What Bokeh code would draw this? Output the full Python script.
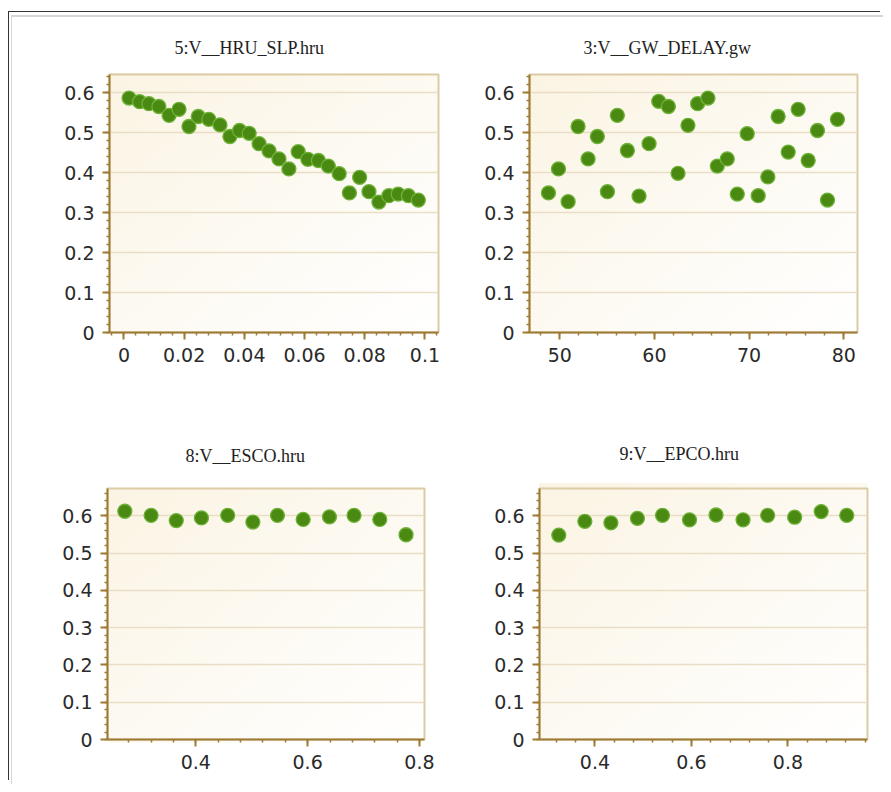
from bokeh.plotting import figure
from bokeh.layouts import row, column
from bokeh.models import SingleIntervalTicker, CustomJSTickFormatter, Range1d
from bokeh.embed import file_html
from bokeh.resources import INLINE

# ---- data ----
hru_slp_x = [0.0017, 0.0052, 0.0083, 0.0116, 0.0150, 0.0183, 0.0216, 0.0247, 0.0282, 0.0319,
             0.0352, 0.0384, 0.0416, 0.0449, 0.0482, 0.0515, 0.0548, 0.0579, 0.0611, 0.0646,
             0.0679, 0.0715, 0.0749, 0.0783, 0.0814, 0.0847, 0.0880, 0.0911, 0.0945, 0.0978]
hru_slp_y = [0.586, 0.577, 0.572, 0.565, 0.543, 0.558, 0.515, 0.540, 0.533, 0.519,
             0.490, 0.505, 0.498, 0.472, 0.454, 0.434, 0.409, 0.452, 0.433, 0.430,
             0.416, 0.397, 0.349, 0.388, 0.352, 0.326, 0.342, 0.346, 0.342, 0.331]

gw_delay_x = [48.8, 49.86, 50.88, 51.93, 52.99, 53.97, 55.03, 56.08, 57.14, 58.37,
              59.43, 60.45, 61.47, 62.49, 63.54, 64.56, 65.65, 66.64, 67.69, 68.75,
              69.80, 70.96, 71.98, 73.07, 74.13, 75.18, 76.24, 77.22, 78.28, 79.33]
gw_delay_y = [0.349, 0.409, 0.327, 0.515, 0.434, 0.490, 0.352, 0.543, 0.455, 0.341,
              0.472, 0.578, 0.565, 0.398, 0.518, 0.572, 0.586, 0.416, 0.434, 0.346,
              0.497, 0.342, 0.389, 0.540, 0.451, 0.558, 0.430, 0.505, 0.331, 0.533]

esco_x = [0.273, 0.320, 0.365, 0.410, 0.457, 0.502, 0.546, 0.592, 0.639, 0.683, 0.729, 0.776]
esco_y = [0.612, 0.601, 0.587, 0.594, 0.601, 0.583, 0.601, 0.590, 0.597, 0.601, 0.590, 0.549]

epco_x = [0.325, 0.379, 0.433, 0.488, 0.540, 0.596, 0.651, 0.707, 0.758, 0.814, 0.869, 0.922]
epco_y = [0.548, 0.585, 0.581, 0.593, 0.601, 0.589, 0.602, 0.589, 0.601, 0.596, 0.611, 0.601]

titles = ["5:V__HRU_SLP.hru", "3:V__GW_DELAY.gw", "8:V__ESCO.hru", "9:V__EPCO.hru"]

AXIS = "#9E7B35"
LABEL = "#2a2a2a"
GRID = "#E9DEC5"
FRAME = "#DCCCA6"

fmt = CustomJSTickFormatter(code="return String(parseFloat(tick.toFixed(6)));")


def panel(title, xs, ys, xr, yr, xint, w, h, bl, br, bt, bb, toff, tstand):
    fw, fh = w - bl - br, h - bt - bb
    p = figure(width=w, height=h, x_range=Range1d(*xr), y_range=Range1d(*yr),
               output_backend="svg", toolbar_location=None,
               min_border_left=bl, min_border_right=br, min_border_top=bt, min_border_bottom=bb,
               border_fill_color=None, background_fill_color=None,
               outline_line_color=FRAME, outline_line_width=2)
    p.styles = {
        "background-image": "linear-gradient(to bottom right, #FBF4E3 0%, #FDFAF3 55%, #FFFFFF 100%)",
        "background-size": f"{fw}px {fh}px",
        "background-position": f"{bl}px {bt}px",
        "background-repeat": "no-repeat",
    }
    p.title.text = title
    p.title.align = "left"
    p.title.offset = toff
    p.title.standoff = tstand
    p.title.text_font = "Liberation Serif"
    p.title.text_font_size = "18px"
    p.title.text_font_style = "normal"
    p.title.text_color = "#222222"

    p.xaxis.ticker = SingleIntervalTicker(interval=xint, num_minor_ticks=5)
    p.yaxis.ticker = SingleIntervalTicker(interval=0.1, num_minor_ticks=5)
    for ax in (p.xaxis, p.yaxis):
        ax.formatter = fmt
        ax.axis_line_color = AXIS
        ax.axis_line_width = 2
        ax.major_tick_line_color = AXIS
        ax.major_tick_line_width = 2
        ax.minor_tick_line_color = AXIS
        ax.minor_tick_line_width = 1.5
        ax.major_tick_in = 0
        ax.major_tick_out = 7
        ax.minor_tick_in = 0
        ax.minor_tick_out = 3
        ax.major_label_text_font = "DejaVu Sans"
        ax.major_label_text_font_size = "19px"
        ax.major_label_text_color = LABEL
        ax.major_label_standoff = 8
    p.xgrid.visible = False
    p.ygrid.grid_line_color = GRID
    p.ygrid.grid_line_width = 1.5

    p.scatter(xs, ys, size=14, fill_color="#4A8A12", line_color="#6FB238", line_width=1.3)
    return p


p1 = panel(titles[0], hru_slp_x, hru_slp_y, (-0.0048, 0.1045), (0, 0.645), 0.02,
           436, 383, 97, 10, 56, 68, 65, 33)
p2 = panel(titles[1], gw_delay_x, gw_delay_y, (46.8, 81.45), (0, 0.645), 10,
           435, 383, 81, 26, 57, 67, 54, 34)
p3 = panel(titles[2], esco_x, esco_y, (0.242, 0.809), (0, 0.673), 0.2,
           436, 384, 95, 24, 88, 41, 78, 46)
p4 = panel(titles[3], epco_x, epco_y, (0.285, 0.965), (0, 0.673), 0.2,
           435, 384, 91, 16, 83, 45, 80, 49)

layout = column(
    row(p1, p2), row(p3, p4),
    styles={
        "margin-top": "15px",
        "margin-left": "11px",
        "border-top": "2px solid #d6d6d6",
        "border-left": "1px solid #d6d6d6",
        "box-shadow": "-2px -3px 0 0 #ffffff, -3px -4px 0 0 #333333",
    },
)

open("out.html", "w").write(file_html(layout, INLINE))
